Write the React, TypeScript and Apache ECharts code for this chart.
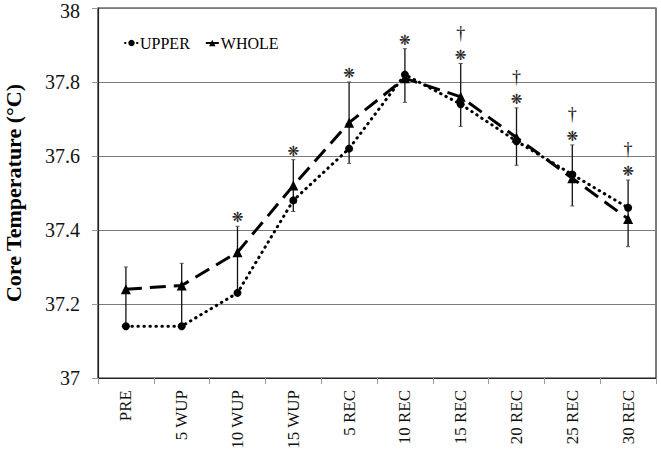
import React, { useEffect, useRef } from "react";
import * as echarts from "echarts";

const categories = ["PRE", "5 WUP", "10 WUP", "15 WUP", "5 REC", "10 REC", "15 REC", "20 REC", "25 REC", "30 REC"];
const upper = [37.14, 37.14, 37.23, 37.48, 37.62, 37.82, 37.74, 37.64, 37.55, 37.46];
const whole = [37.24, 37.25, 37.34, 37.52, 37.69, 37.81, 37.76, 37.65, 37.54, 37.43];
const errHigh = [37.3, 37.31, 37.41, 37.59, 37.8, 37.89, 37.85, 37.73, 37.63, 37.535];
const errLow = [37.14, 37.14, 37.23, 37.45, 37.58, 37.745, 37.68, 37.575, 37.465, 37.355];
const starFlags = [0, 0, 1, 1, 1, 1, 1, 1, 1, 1];
const daggerFlags = [0, 0, 0, 0, 0, 0, 1, 1, 1, 1];

const SERIF = "Liberation Serif";

export default function App() {
  const ref = useRef<HTMLDivElement>(null);
  useEffect(() => {
    if (!ref.current) return;
    const chart = echarts.init(ref.current, null, { renderer: "svg" });
    const errData = categories.map((_, i) => [i, errLow[i], errHigh[i], starFlags[i], daggerFlags[i]]);
    chart.setOption({
      animation: false,
      backgroundColor: "#ffffff",
      textStyle: { fontFamily: SERIF },
      grid: {
        left: 98,
        right: 5,
        top: 8,
        bottom: 71,
        show: true,
        borderColor: "#222",
        borderWidth: 1.2,
        containLabel: false,
        outerBoundsMode: "none",
      },
      legend: {
        left: 119,
        top: 30,
        itemWidth: 13,
        itemHeight: 8,
        itemGap: 15,
        data: ["UPPER", "WHOLE"],
        textStyle: { fontFamily: SERIF, fontSize: 16, color: "#000", padding: [0, 0, 0, -3] },
      },
      xAxis: {
        type: "category",
        data: categories,
        boundaryGap: true,
        axisLine: { lineStyle: { color: "#222", width: 1.2 } },
        axisTick: { show: true, length: 6, alignWithLabel: false, lineStyle: { color: "#999" } },
        axisLabel: {
          rotate: 90,
          margin: 12,
          fontFamily: SERIF,
          fontSize: 17,
          color: "#111",
          interval: 0,
        },
        splitLine: { show: false },
      },
      yAxis: {
        type: "value",
        min: 37,
        max: 38,
        interval: 0.2,
        name: "Core Temperature (°C)",
        nameLocation: "middle",
        nameGap: 74,
        nameTextStyle: { fontFamily: SERIF, fontSize: 22, fontWeight: "bold", color: "#000" },
        axisLine: { show: true, lineStyle: { color: "#222", width: 1.2 } },
        axisTick: { show: true, length: 6, lineStyle: { color: "#999" } },
        axisLabel: {
          margin: 18,
          fontFamily: SERIF,
          fontSize: 20,
          color: "#111",
          formatter: (v: number) => {
            const s = String(Math.round(v * 10) / 10);
            return v >= 37.999 ? "{t|" + s + "}" : s;
          },
          rich: {
            t: { fontFamily: SERIF, fontSize: 20, color: "#111", padding: [6, 0, 0, 0] },
          },
        },
        splitLine: { show: true, lineStyle: { color: "#7a7a7a", width: 1.2 } },
      },
      series: [
        {
          name: "errors",
          type: "custom",
          silent: true,
          z: 1,
          itemStyle: { color: "#222" },
          encode: { x: 0, y: [1, 2] },
          data: errData,
          renderItem: (params: any, api: any) => {
            const i = api.value(0);
            const top = api.coord([i, api.value(2)]);
            const bot = api.coord([i, api.value(1)]);
            const x = top[0];
            const children: any[] = [
              { type: "line", shape: { x1: x, y1: top[1], x2: x, y2: bot[1] }, style: { stroke: "#111", lineWidth: 1.3 } },
              { type: "line", shape: { x1: x - 2, y1: top[1], x2: x + 2, y2: top[1] }, style: { stroke: "#555", lineWidth: 1 } },
              { type: "line", shape: { x1: x - 2, y1: bot[1], x2: x + 2, y2: bot[1] }, style: { stroke: "#555", lineWidth: 1 } },
            ];
            if (api.value(3)) {
              children.push({
                type: "text",
                x: x,
                y: top[1] - 9,
                style: {
                  text: "❋",
                  fill: "#222",
                  fontFamily: "DejaVu Sans",
                  fontSize: 14,
                  align: "center",
                  verticalAlign: "middle",
                },
              });
            }
            if (api.value(4)) {
              children.push({
                type: "text",
                x: x,
                y: top[1] - 31,
                style: {
                  text: "†",
                  fill: "#111",
                  fontFamily: SERIF,
                  fontSize: 18,
                  align: "center",
                  verticalAlign: "middle",
                },
              });
            }
            return { type: "group", children };
          },
        },
        {
          name: "UPPER",
          type: "line",
          data: upper,
          z: 3,
          symbol: "circle",
          symbolSize: 8,
          itemStyle: { color: "#000" },
          lineStyle: { color: "#000", width: 3, type: [0.5, 5.5], cap: "round" },
        },
        {
          name: "WHOLE",
          type: "line",
          data: whole,
          z: 4,
          symbol: "triangle",
          symbolSize: 10,
          itemStyle: { color: "#000" },
          lineStyle: { color: "#000", width: 3, type: [16, 8] },
        },
      ],
    });
    return () => chart.dispose();
  }, []);
  return <div ref={ref} style={{ position: "fixed", left: 0, top: 0, width: 661, height: 449 }} />;
}
